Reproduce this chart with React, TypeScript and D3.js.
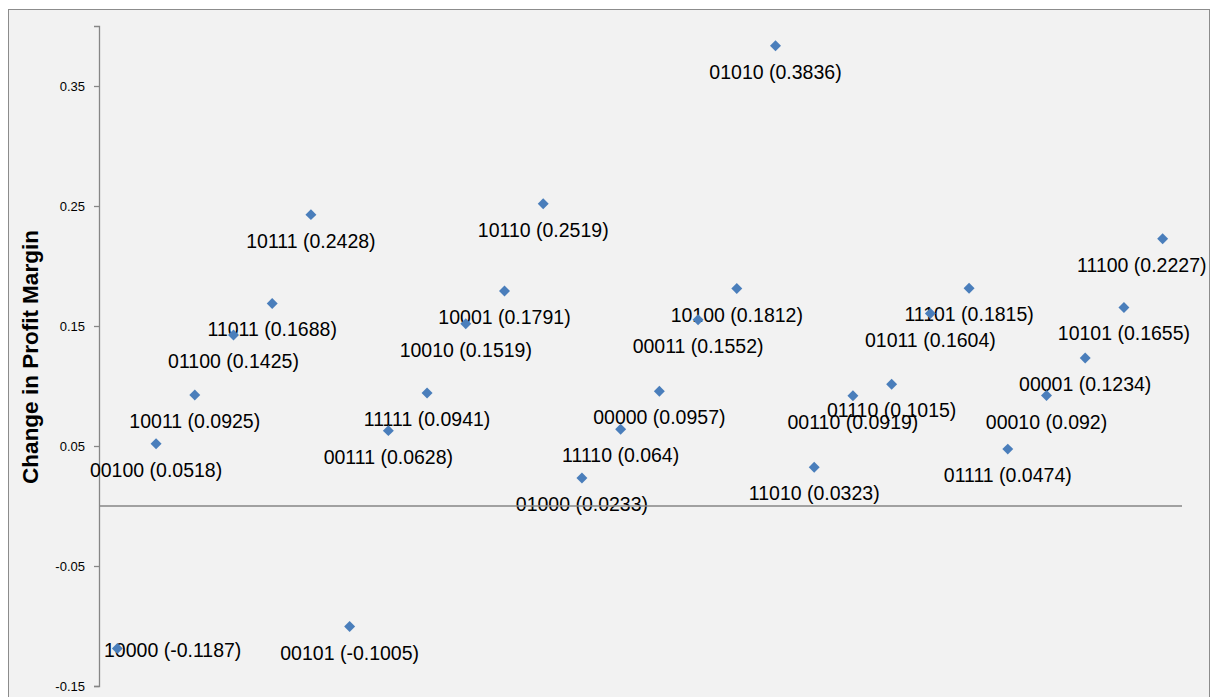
import React, { useEffect, useRef } from "react";
import * as d3 from "d3";

const codes = [
  "10000", "00100", "10011", "01100", "11011", "10111", "00101", "00111",
  "11111", "10010", "10001", "10110", "01000", "11110", "00000", "00011",
  "10100", "01010", "11010", "00110", "01110", "01011", "11101", "01111",
  "00010", "00001", "10101", "11100",
];
const values = [
  -0.1187, 0.0518, 0.0925, 0.1425, 0.1688, 0.2428, -0.1005, 0.0628,
  0.0941, 0.1519, 0.1791, 0.2519, 0.0233, 0.064, 0.0957, 0.1552,
  0.1812, 0.3836, 0.0323, 0.0919, 0.1015, 0.1604, 0.1815, 0.0474,
  0.092, 0.1234, 0.1655, 0.2227,
];
const yTicks = [-0.15, -0.05, 0.05, 0.15, 0.25, 0.35];
const yTitle = "Change in Profit Margin";

const W = 1212;
const H = 697;

export default function App() {
  const ref = useRef<SVGSVGElement | null>(null);

  useEffect(() => {
    const svg = d3.select(ref.current);
    svg.selectAll("*").remove();

    const chartL = 8.5, chartT = 9.5, chartR = 1209.5;
    const plotL = 99, plotR = 1182, plotT = 26, plotB = 686;

    const x = d3.scaleLinear().domain([0.5, codes.length + 0.5]).range([98, plotR]);
    const y = d3.scaleLinear().domain([-0.15, 0.4]).range([plotB, plotT]);

    svg.append("rect").attr("width", W).attr("height", H).attr("fill", "#ffffff");
    svg.append("rect")
      .attr("x", chartL).attr("y", chartT)
      .attr("width", chartR - chartL).attr("height", H + 20)
      .attr("fill", "#f2f2f2").attr("stroke", "#8c8c8c").attr("stroke-width", 1);

    const font = "'Liberation Sans', Arial, sans-serif";

    // y axis
    const yAxis = d3.axisLeft(y).tickValues(yTicks).tickSize(5).tickPadding(9)
      .tickFormat((d) => String(d));
    const gy = svg.append("g").attr("transform", `translate(${plotL},0)`).call(yAxis);
    gy.select(".domain").attr("stroke", "#868686").attr("stroke-width", 1.3);
    gy.selectAll(".tick line").attr("stroke", "#868686").attr("stroke-width", 1.3);
    gy.selectAll(".tick text").attr("font-family", font).attr("font-size", 13).attr("fill", "#000");

    // title
    svg.append("text")
      .attr("transform", `translate(30,${(plotT + plotB) / 2 + 1}) rotate(-90)`)
      .attr("text-anchor", "middle").attr("dominant-baseline", "central")
      .attr("font-family", font).attr("font-weight", "bold").attr("font-size", 22.5)
      .attr("fill", "#000").text(yTitle);

    const data = codes.map((c, i) => ({ c, v: values[i], i: i + 1 }));

    // labels
    const labels = svg.append("g");
    data.forEach((d) => {
      const px = x(d.i), py = y(d.v);
      const t = labels.append("text")
        .attr("font-family", font).attr("font-size", 19.5).attr("fill", "#000")
        .text(`${d.c} (${d.v})`);
      const w = (t.node() as SVGTextElement).getComputedTextLength();
      let left = px - w / 2;
      let base = py + 33;
      if (left < plotL - 20) {
        left = plotL + 5;
        base = py + 9;
      }
      if (left + w > chartR - 3) left = chartR - 3 - w;
      t.attr("x", left).attr("y", base);
    });

    // x axis line at zero
    svg.append("line")
      .attr("x1", plotL).attr("x2", plotR).attr("y1", y(0)).attr("y2", y(0))
      .attr("stroke", "#868686").attr("stroke-width", 1.3);

    // markers
    const sym = d3.symbol(d3.symbolSquare, 60);
    svg.append("g").selectAll("path").data(data).join("path")
      .attr("d", sym as any)
      .attr("transform", (d) => `translate(${x(d.i)},${y(d.v)}) rotate(45)`)
      .attr("fill", "#4a7ebb");
  }, []);

  return (
    <svg
      ref={ref}
      width={W}
      height={H}
      style={{ position: "absolute", left: 0, top: 0, display: "block" }}
    />
  );
}
